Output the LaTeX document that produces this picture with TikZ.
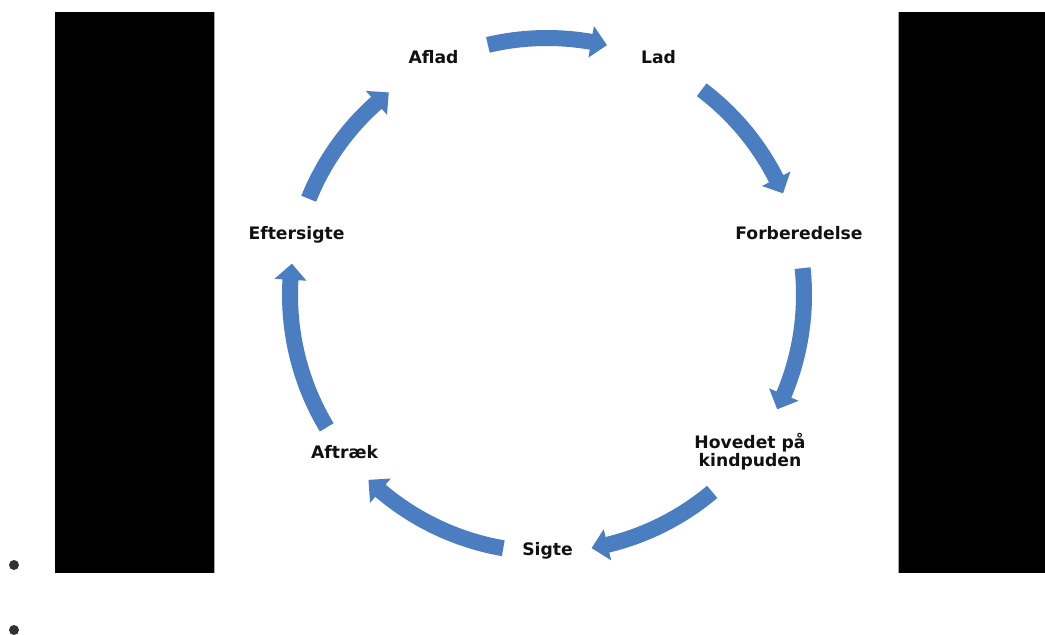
\documentclass[tikz,border=0pt]{standalone}
\usepackage{fontspec}
\setmainfont{DejaVu Sans}
\definecolor{arrowblue}{RGB}{74,126,192}
\definecolor{labeltext}{RGB}{17,17,17}
\newcommand{\cycarrow}[2]{%
  \fill[arrowblue]
    (#1:257pt+8pt) arc[start angle=#1, end angle=#2+3.6, radius=265pt]
    -- (#2+3.6:257pt+16pt) -- (#2:257pt) -- (#2+3.6:257pt-16pt)
    -- (#2+3.6:249pt) arc[start angle=#2+3.6, end angle=#1, radius=249pt]
    -- cycle;}
\begin{document}
\begin{tikzpicture}[x=1pt,y=-1pt,
  lbl/.style={font=\bfseries\fontsize{17.2}{17.8}\selectfont, text=labeltext, inner sep=0pt, anchor=base},
  blackpanel/.style={fill=black},
  bulletdot/.style={fill=black!80}]
\useasboundingbox[fill=white] (0,0) rectangle (1045,635);
% black side panels
\fill[blackpanel] (55,12) rectangle (214,573);
\fill[blackpanel] (899,12) rectangle (1045,573);
\draw[black!35, line width=1pt] (214.5,12) -- (214.5,573);
\draw[black!35, line width=1pt] (898.5,12) -- (898.5,573);
% bullets
\fill[bulletdot] (14,565) circle[radius=5pt];
\fill[bulletdot] (14,630) circle[radius=5pt];
% labels
\node[lbl] (aflad) at (433.5,63.5) {Aflad};
\node[lbl] (lad) at (658.5,63.5) {Lad};
\node[lbl] (forb) at (799,239.5) {Forberedelse};
\node[lbl, anchor=center, align=center] (hoved) at (750,452) {Hovedet på\\kindpuden};
\node[lbl] (sigte) at (547.5,555) {Sigte};
\node[lbl] (aftraek) at (344.5,458.5) {Aftræk};
\node[lbl] (efter) at (296.5,239.5) {Eftersigte};
% cycle arrows
\begin{scope}[shift={(547,295)}]
\cycarrow{103.3}{76.5}
\cycarrow{53}{23.3}
\cycarrow{6}{-26.4}
\cycarrow{-50}{-80}
\cycarrow{-99.8}{-134}
\cycarrow{-149}{-187}
\cycarrow{158}{128}
\end{scope}
\end{tikzpicture}
\end{document}
